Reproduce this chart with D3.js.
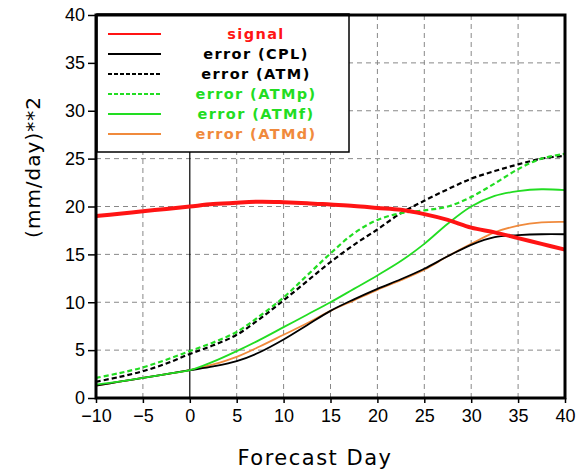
<!DOCTYPE html>
<html lang="en">
<head>
<meta charset="utf-8">
<title>Forecast Day error</title>
<script src="https://cdn.jsdelivr.net/npm/d3@7"></script>
<style>
  body { margin: 0; background: #fff; }
  .tick text { font-family: "Liberation Sans", Arial, sans-serif; font-size: 18px; fill: #000; }
  .grid line { stroke: #888; stroke-dasharray: 5,4; stroke-width: 1; }
  .legend text { font-family: "DejaVu Sans", sans-serif; font-size: 14.5px; font-weight: bold; letter-spacing: 1.4px; }
</style>
</head>
<body>
<script>
var w = 577, h = 473;
var padLeft = 96, padRight = 565, padTop = 15, padBottom = 398;

// forecast days, sampled every 2.5 days
var days = [-10, -7.5, -5, -2.5, 0, 2.5, 5, 7.5, 10, 12.5, 15, 17.5, 20, 22.5, 25, 27.5, 30, 32.5, 35, 37.5, 40];

var signal = [19.0, 19.25, 19.5, 19.75, 20.0, 20.25, 20.4, 20.5, 20.45, 20.35, 20.2, 20.05, 19.85, 19.65, 19.2, 18.6, 17.8, 17.3, 16.7, 16.1, 15.5];
var errCPL = [1.3, 1.7, 2.1, 2.5, 2.9, 3.3, 3.85, 4.8, 6.1, 7.6, 9.1, 10.3, 11.4, 12.4, 13.5, 14.8, 16.0, 16.8, 17.0, 17.1, 17.1];
var errATM = [1.7, 2.2, 2.8, 3.6, 4.6, 5.5, 6.6, 8.3, 10.2, 12.2, 14.2, 16.0, 17.6, 19.3, 20.6, 21.8, 22.9, 23.7, 24.4, 25.0, 25.3];
var errATMp = [2.1, 2.6, 3.2, 4.0, 4.9, 5.8, 6.9, 8.6, 10.5, 12.8, 15.1, 17.2, 18.6, 19.3, 19.6, 20.0, 21.0, 22.4, 23.9, 25.0, 25.5];
var errATMf = [1.4, 1.7, 2.1, 2.5, 2.9, 3.8, 4.9, 6.1, 7.4, 8.7, 10.0, 11.4, 12.8, 14.3, 16.1, 18.2, 20.0, 21.1, 21.6, 21.8, 21.7];
var errATMd = [1.3, 1.7, 2.1, 2.5, 2.9, 3.5, 4.3, 5.4, 6.6, 7.8, 9.1, 10.2, 11.3, 12.3, 13.4, 14.8, 16.1, 17.3, 18.0, 18.35, 18.4];

var xTicks = [-10, -5, 0, 5, 10, 15, 20, 25, 30, 35, 40];
var yTicks = [0, 5, 10, 15, 20, 25, 30, 35, 40];

var labels = ["signal", "error (CPL)", "error (ATM)", "error (ATMp)", "error (ATMf)", "error (ATMd)"];
var colors = ["#ff1414", "#000000", "#000000", "#22dd22", "#22dd22", "#f08a3c"];
var dashes = [null, null, "5,3", "5,3", null, null];
var widths = [4, 1.8, 2.2, 2.2, 1.8, 1.8];
var seriesList = [signal, errCPL, errATM, errATMp, errATMf, errATMd];

var xscale = d3.scaleLinear().domain([-10, 40]).range([padLeft, padRight]);
var yscale = d3.scaleLinear().domain([0, 40]).range([padBottom, padTop]);

var svg = d3.select("body").append("svg").attr("width", w).attr("height", h);

// grid
var grid = svg.append("g").attr("class", "grid");
grid.selectAll("line.v").data(xTicks.filter(function(d) { return d != -10 && d != 40 && d != 0; }))
    .enter().append("line").attr("class", "v")
    .attr("x1", function(d) { return xscale(d); }).attr("x2", function(d) { return xscale(d); })
    .attr("y1", padTop).attr("y2", padBottom);
grid.selectAll("line.h").data(yTicks.filter(function(d) { return d != 0 && d != 40; }))
    .enter().append("line").attr("class", "h")
    .attr("y1", function(d) { return yscale(d); }).attr("y2", function(d) { return yscale(d); })
    .attr("x1", padLeft).attr("x2", padRight);

// solid line at day 0
svg.append("line")
   .attr("x1", xscale(0)).attr("x2", xscale(0))
   .attr("y1", padTop).attr("y2", padBottom)
   .attr("stroke", "#000").attr("stroke-width", 1.2);

// curves
var line = d3.line()
    .x(function(d, i) { return xscale(days[i]); })
    .y(function(d) { return yscale(d); })
    .curve(d3.curveCatmullRom);

// signal drawn last, on top of the errors
var order = [5, 1, 4, 2, 3, 0];
svg.append("g").selectAll("path").data(order).enter().append("path")
   .attr("d", function(k) { return line(seriesList[k]); })
   .attr("fill", "none")
   .attr("stroke", function(k) { return colors[k]; })
   .attr("stroke-width", function(k) { return widths[k]; })
   .attr("stroke-dasharray", function(k) { return dashes[k]; });

// axes
var xaxis = d3.axisBottom(xscale).tickValues(xTicks).tickSize(5).tickPadding(6);
var yaxis = d3.axisLeft(yscale).tickValues(yTicks).tickSize(8).tickPadding(3);
var gx = svg.append("g").attr("transform", "translate(0," + padBottom + ")").call(xaxis);
var gy = svg.append("g").attr("transform", "translate(" + padLeft + ",0)").call(yaxis);
gx.select(".domain").remove();
gy.select(".domain").remove();
gx.selectAll("line").attr("stroke-width", 1.5);
gy.selectAll("line").attr("stroke-width", 1.5);

// legend
var lg = svg.append("g").attr("class", "legend");
lg.append("rect").attr("x", 97).attr("y", 14).attr("width", 252).attr("height", 138)
  .attr("fill", "#fff").attr("stroke", "#000").attr("stroke-width", 1.5);
var rows = lg.selectAll("g.row").data(labels).enter().append("g").attr("class", "row")
  .attr("transform", function(d, i) { return "translate(0," + (34 + i * 20) + ")"; });
rows.append("line").attr("x1", 108).attr("x2", 161).attr("y1", 0).attr("y2", 0)
  .attr("stroke", function(d, i) { return colors[i]; })
  .attr("stroke-width", 2)
  .attr("stroke-dasharray", function(d, i) { return dashes[i] ? "4,2" : null; });
rows.append("text").attr("x", 256).attr("y", 5).attr("text-anchor", "middle")
  .attr("fill", function(d, i) { return colors[i]; })
  .text(function(d) { return d; });

// frame
svg.append("rect").attr("x", padLeft).attr("y", padTop).attr("width", padRight - padLeft).attr("height", padBottom - padTop)
   .attr("fill", "none").attr("stroke", "#000").attr("stroke-width", 3);

// titles
svg.append("text").attr("x", 315).attr("y", 465)
   .attr("text-anchor", "middle")
   .attr("font-family", "DejaVu Sans, sans-serif").attr("font-size", "21px").attr("letter-spacing", "1.5px")
   .text("Forecast Day");
svg.append("text").attr("transform", "translate(40,167) rotate(-90)")
   .attr("text-anchor", "middle")
   .attr("font-family", "DejaVu Sans, sans-serif").attr("font-size", "20px").attr("letter-spacing", "1px")
   .text("(mm/day)**2");
</script>
</body>
</html>
